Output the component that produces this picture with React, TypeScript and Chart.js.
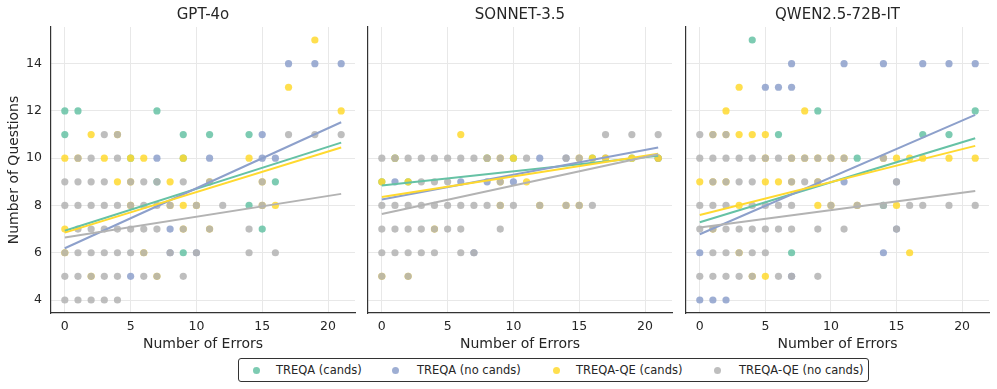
import React, { useEffect, useRef } from "react";
import { Chart, registerables } from "chart.js";

Chart.register(...registerables);

const FONT = "'DejaVu Sans', 'Liberation Sans', sans-serif";
const TEXT_COLOR = "#262626";
const GRID_COLOR = "#e8e8e8";
const SPINE_COLOR = "#333333";

const SERIES_NAMES = ["TREQA (cands)", "TREQA (no cands)", "TREQA-QE (cands)", "TREQA-QE (no cands)"];
const SERIES_COLORS = ["#66c2a5", "#8da0cb", "#ffd92f", "#b3b3b3"];
const POINT_ALPHA = 0.85;

const X_TICKS = [0, 5, 10, 15, 20];
const Y_TICKS = [4, 6, 8, 10, 12, 14];
const X_RANGE = [-1.05, 22.05];
const Y_RANGE = [3.45, 15.55];
const FIT_X = [0, 21];

const PANEL_TITLES = ["GPT-4o", "SONNET-3.5", "QWEN2.5-72B-IT"];
const X_LABEL = "Number of Errors";
const Y_LABEL = "Number of Questions";

// ---------- GPT-4o ----------
const GPT_TREQA_CANDS = [[0,12],[1,12],[7,12],[0,11],[9,11],[11,11],[14,11],[5,10],[9,10],[7,9],[16,9],[14,8],[15,7],[9,6]];
const GPT_TREQA_NOCANDS = [[17,14],[19,14],[21,14],[15,11],[7,10],[11,10],[15,10],[16,10],[8,7],[8,6],[10,6],[5,5]];
const GPT_QE_CANDS = [[19,15],[17,13],[21,12],[2,11],[4,11],[0,10],[1,10],[3,10],[5,10],[6,10],[9,10],[14,10],[4,9],[5,9],[8,9],[11,9],[15,9],[5,8],[8,8],[9,8],[10,8],[15,8],[16,8],[0,7],[9,7],[11,7],[0,6],[6,6],[2,5],[7,5]];
const GPT_QE_NOCANDS = [[3,11],[4,11],[17,11],[19,11],[21,11],[1,10],[2,10],[4,10],[0,9],[1,9],[2,9],[3,9],[5,9],[6,9],[7,9],[9,9],[11,9],[15,9],[0,8],[1,8],[2,8],[3,8],[4,8],[5,8],[6,8],[7,8],[8,8],[10,8],[12,8],[15,8],[1,7],[2,7],[3,7],[4,7],[5,7],[6,7],[7,7],[9,7],[11,7],[14,7],[0,6],[1,6],[2,6],[3,6],[4,6],[5,6],[6,6],[8,6],[10,6],[14,6],[16,6],[0,5],[1,5],[2,5],[3,5],[4,5],[6,5],[7,5],[9,5],[0,4],[1,4],[2,4],[3,4],[4,4]];
const GPT_FIT_TREQA_CANDS = [6.93, 10.66];
const GPT_FIT_TREQA_NOCANDS = [6.19, 11.52];
const GPT_FIT_QE_CANDS = [6.85, 10.45];
const GPT_FIT_QE_NOCANDS = [6.64, 8.49];

// ---------- SONNET-3.5 ----------
const SON_TREQA_CANDS = [[0,9],[2,9],[1,10],[8,10],[10,10],[16,10],[19,10],[21,10]];
const SON_TREQA_NOCANDS = [[12,10],[14,10],[1,9],[6,9],[8,9],[10,9],[7,6],[17,10],[21,10]];
const SON_QE_CANDS = [[6,11],[1,10],[8,10],[9,10],[10,10],[15,10],[16,10],[17,10],[19,10],[21,10],[0,9],[2,9],[9,9],[11,9],[9,8],[12,8],[14,8],[15,8],[4,7],[0,5],[2,5]];
const SON_QE_NOCANDS = [[17,11],[19,11],[21,11],[0,10],[1,10],[2,10],[3,10],[4,10],[5,10],[6,10],[7,10],[8,10],[9,10],[11,10],[14,10],[15,10],[3,9],[4,9],[5,9],[9,9],[0,8],[1,8],[2,8],[3,8],[4,8],[5,8],[6,8],[7,8],[8,8],[9,8],[10,8],[12,8],[14,8],[15,8],[16,8],[0,7],[1,7],[2,7],[3,7],[4,7],[5,7],[6,7],[9,7],[0,6],[1,6],[2,6],[3,6],[4,6],[6,6],[7,6],[0,5],[2,5]];
const SON_FIT_TREQA_CANDS = [8.84, 10.1];
const SON_FIT_TREQA_NOCANDS = [8.25, 10.45];
const SON_FIT_QE_CANDS = [8.36, 10.19];
const SON_FIT_QE_NOCANDS = [7.64, 10.17];

// ---------- QWEN2.5-72B-IT ----------
const QW_TREQA_CANDS = [[4,15],[9,12],[21,12],[6,11],[17,11],[19,11],[12,10],[14,8],[7,6]];
const QW_TREQA_NOCANDS = [[7,14],[11,14],[14,14],[17,14],[19,14],[21,14],[5,13],[6,13],[7,13],[11,9],[15,9],[15,7],[0,6],[14,6],[7,5],[0,4],[1,4],[2,4]];
const QW_QE_CANDS = [[3,13],[2,12],[8,12],[1,11],[2,11],[3,11],[4,11],[5,11],[5,10],[7,10],[8,10],[9,10],[10,10],[11,10],[14,10],[15,10],[16,10],[17,10],[19,10],[21,10],[0,9],[1,9],[2,9],[5,9],[6,9],[7,9],[9,9],[3,8],[9,8],[10,8],[12,8],[15,8],[1,7],[3,6],[16,6],[4,5],[5,5]];
const QW_QE_NOCANDS = [[0,11],[1,11],[2,11],[0,10],[1,10],[2,10],[3,10],[4,10],[5,10],[6,10],[7,10],[8,10],[9,10],[10,10],[11,10],[14,10],[1,9],[2,9],[3,9],[4,9],[7,9],[8,9],[9,9],[15,9],[0,8],[1,8],[2,8],[4,8],[5,8],[6,8],[7,8],[10,8],[12,8],[14,8],[16,8],[17,8],[19,8],[21,8],[0,7],[1,7],[2,7],[3,7],[4,7],[5,7],[6,7],[7,7],[9,7],[11,7],[15,7],[1,6],[2,6],[3,6],[4,6],[5,6],[0,5],[1,5],[2,5],[3,5],[4,5],[6,5],[7,5],[9,5]];
const QW_FIT_TREQA_CANDS = [7.29, 10.84];
const QW_FIT_TREQA_NOCANDS = [6.78, 11.83];
const QW_FIT_QE_CANDS = [7.6, 10.52];
const QW_FIT_QE_NOCANDS = [7.07, 8.61];

function rgba(hex: string, a: number) {
  const n = parseInt(hex.slice(1), 16);
  return `rgba(${(n >> 16) & 255},${(n >> 8) & 255},${n & 255},${a})`;
}

type PanelProps = {
  left: number;
  width: number;
  title: string;
  points: number[][][];
  fits: number[][];
  showY: boolean;
  yWidth: number;
  padRight: number;
};

const CANVAS_H = 355;

function Panel({ left, width, title, points, fits, showY, yWidth, padRight }: PanelProps) {
  const ref = useRef<HTMLCanvasElement>(null);
  useEffect(() => {
    if (!ref.current) return;
    const datasets: any[] = [];
    points.forEach((pts, i) => {
      datasets.push({
        label: SERIES_NAMES[i],
        data: pts.map(([x, y]) => ({ x, y })),
        backgroundColor: rgba(SERIES_COLORS[i], POINT_ALPHA),
        borderWidth: 0,
        pointRadius: 3.6,
        pointHoverRadius: 3.6,
        showLine: false,
        order: 7 - i,
      });
    });
    fits.forEach((f, i) => {
      datasets.push({
        label: SERIES_NAMES[i] + " fit",
        data: FIT_X.map((x, k) => ({ x, y: f[k] })),
        borderColor: SERIES_COLORS[i],
        backgroundColor: SERIES_COLORS[i],
        borderWidth: 2,
        pointRadius: 0,
        showLine: true,
        fill: false,
        order: 3 - i,
      });
    });
    const chart = new Chart(ref.current, {
      type: "scatter",
      data: { datasets },
      options: {
        animation: false,
        responsive: false,
        devicePixelRatio: 1,
        events: [],
        layout: { padding: { left: 0, right: padRight, top: 0, bottom: 0 } },
        plugins: {
          legend: { display: false },
          tooltip: { enabled: false },
          title: {
            display: true,
            text: title,
            fullSize: false,
            color: TEXT_COLOR,
            font: { family: FONT, size: 15, weight: "normal" },
            padding: { top: 6, bottom: 3 },
          },
        },
        scales: {
          x: {
            type: "linear",
            position: "bottom",
            min: X_RANGE[0],
            max: X_RANGE[1],
            afterBuildTicks: (axis: any) => {
              axis.ticks = X_TICKS.map((v) => ({ value: v }));
            },
            afterFit: (axis: any) => {
              axis.height = 42;
            },
            grid: { color: GRID_COLOR, lineWidth: 1, drawTicks: false },
            border: { color: SPINE_COLOR, width: 1.2 },
            ticks: {
              color: TEXT_COLOR,
              font: { family: FONT, size: 12.5 },
              padding: 6,
              maxRotation: 0,
              callback: (v: any) => String(v),
            },
            title: {
              display: true,
              text: X_LABEL,
              color: TEXT_COLOR,
              font: { family: FONT, size: 14 },
              padding: { top: 0, bottom: 2.5 },
            },
          },
          y: {
            type: "linear",
            position: "left",
            min: Y_RANGE[0],
            max: Y_RANGE[1],
            afterBuildTicks: (axis: any) => {
              axis.ticks = Y_TICKS.map((v) => ({ value: v }));
            },
            afterFit: (axis: any) => {
              axis.width = yWidth;
            },
            grid: { color: GRID_COLOR, lineWidth: 1, drawTicks: false },
            border: { color: SPINE_COLOR, width: 1.2 },
            ticks: {
              display: showY,
              color: TEXT_COLOR,
              font: { family: FONT, size: 12.5 },
              padding: 9,
              callback: (v: any) => String(v),
            },
            title: {
              display: showY,
              text: Y_LABEL,
              color: TEXT_COLOR,
              font: { family: FONT, size: 14 },
              padding: { top: 5.5, bottom: 0 },
            },
          },
        },
      } as any,
    });
    return () => chart.destroy();
  }, []);
  return (
    <canvas
      ref={ref}
      width={width}
      height={CANVAS_H}
      style={{ position: "absolute", left, top: 0, width, height: CANVAS_H }}
    />
  );
}

const LEGEND_MARKER_X = [18, 157, 318, 479];
const LEGEND_TEXT_X = [37, 178, 337, 500];

function Legend() {
  return (
    <div
      style={{
        position: "absolute",
        left: 238,
        top: 358,
        width: 631,
        height: 24,
        boxSizing: "border-box",
        border: "1px solid #333",
        borderRadius: 3,
        background: "#fff",
        fontFamily: FONT,
        fontSize: 11.5,
        color: TEXT_COLOR,
      }}
    >
      {SERIES_NAMES.map((name, i) => (
        <React.Fragment key={name}>
          <span
            style={{
              position: "absolute",
              left: LEGEND_MARKER_X[i] - 4,
              top: 7.5,
              width: 7,
              height: 7,
              borderRadius: "50%",
              background: rgba(SERIES_COLORS[i], POINT_ALPHA),
            }}
          />
          <span
            style={{
              position: "absolute",
              left: LEGEND_TEXT_X[i],
              top: 3,
              lineHeight: "16px",
              whiteSpace: "nowrap",
            }}
          >
            {name}
          </span>
        </React.Fragment>
      ))}
    </div>
  );
}

export default function App() {
  return (
    <div
      style={{
        position: "absolute",
        left: 0,
        top: 0,
        width: 997,
        height: 389,
        background: "#fff",
        overflow: "hidden",
      }}
    >
      <Panel
        left={0}
        width={360}
        title={PANEL_TITLES[0]}
        points={[GPT_TREQA_CANDS, GPT_TREQA_NOCANDS, GPT_QE_CANDS, GPT_QE_NOCANDS]}
        fits={[GPT_FIT_TREQA_CANDS, GPT_FIT_TREQA_NOCANDS, GPT_FIT_QE_CANDS, GPT_FIT_QE_NOCANDS]}
        showY={true}
        yWidth={51}
        padRight={5}
      />
      <Panel
        left={360}
        width={317}
        title={PANEL_TITLES[1]}
        points={[SON_TREQA_CANDS, SON_TREQA_NOCANDS, SON_QE_CANDS, SON_QE_NOCANDS]}
        fits={[SON_FIT_TREQA_CANDS, SON_FIT_TREQA_NOCANDS, SON_FIT_QE_CANDS, SON_FIT_QE_NOCANDS]}
        showY={false}
        yWidth={8}
        padRight={5}
      />
      <Panel
        left={677}
        width={320}
        title={PANEL_TITLES[2]}
        points={[QW_TREQA_CANDS, QW_TREQA_NOCANDS, QW_QE_CANDS, QW_QE_NOCANDS]}
        fits={[QW_FIT_TREQA_CANDS, QW_FIT_TREQA_NOCANDS, QW_FIT_QE_CANDS, QW_FIT_QE_NOCANDS]}
        showY={false}
        yWidth={9}
        padRight={8}
      />
      <Legend />
    </div>
  );
}
